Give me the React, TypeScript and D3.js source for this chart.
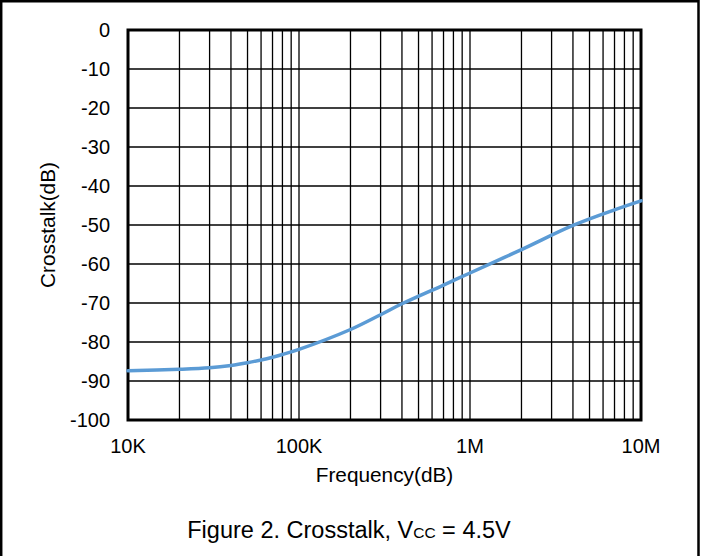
import React, { useEffect, useRef } from 'react';
import * as d3 from 'd3';

// values
const frequencies = [1e4, 2e4, 3e4, 4e4, 5e4, 6e4, 7e4, 8e4, 1e5, 2e5, 3e5, 4e5, 7e5, 1e6, 2e6, 4e6, 7e6, 1e7];
const crosstalk = [-87.4, -87.0, -86.6, -86.0, -85.3, -84.6, -83.9, -83.2, -81.9, -76.8, -73.0, -70.2, -65.4, -62.3, -56.3, -50.1, -46.1, -43.8];
const xTickValues = [1e4, 1e5, 1e6, 1e7];
const xTickLabels = ['10K', '100K', '1M', '10M'];
const yTickValues = [0, -10, -20, -30, -40, -50, -60, -70, -80, -90, -100];

const width = 704;
const height = 556;
const margin = { left: 128, right: 63, top: 30, bottom: 136 };
const font = 'Arial, "Liberation Sans", sans-serif';

const App: React.FC = () => {
    const ref = useRef<SVGSVGElement>(null);

    useEffect(() => {
        const svg = d3.select(ref.current);
        svg.selectAll('*').remove();

        const x = d3.scaleLog().domain([1e4, 1e7]).range([margin.left, width - margin.right]);
        const y = d3.scaleLinear().domain([-100, 0]).range([height - margin.bottom, margin.top]);

        // outer frame
        svg.append('path')
            .attr('d', `M1.2,${height} V1.2 H698.5 V${height}`)
            .attr('fill', 'none')
            .attr('stroke', '#000')
            .attr('stroke-width', 2.5);

        const g = svg.append('g');

        // vertical grid: 1..9 per decade
        const minor: number[] = [];
        for (let e = 4; e < 7; e++) {
            for (let m = 1; m < 10; m++) minor.push(m * Math.pow(10, e));
        }
        g.selectAll('.vgrid')
            .data(minor)
            .enter().append('line')
            .attr('x1', d => x(d)).attr('x2', d => x(d))
            .attr('y1', y(0)).attr('y2', y(-100))
            .attr('stroke', '#000')
            .attr('stroke-width', 1.3);

        g.selectAll('.hgrid')
            .data(yTickValues)
            .enter().append('line')
            .attr('x1', x(1e4)).attr('x2', x(1e7))
            .attr('y1', d => y(d)).attr('y2', d => y(d))
            .attr('stroke', '#000')
            .attr('stroke-width', 1.3);

        // plot frame
        g.append('rect')
            .attr('x', x(1e4)).attr('y', y(0))
            .attr('width', x(1e7) - x(1e4))
            .attr('height', y(-100) - y(0))
            .attr('fill', 'none')
            .attr('stroke', '#000')
            .attr('stroke-width', 3);

        // curve
        const points = frequencies.map((f, i) => [f, crosstalk[i]] as [number, number]);
        const line = d3.line<[number, number]>()
            .x(d => x(d[0]))
            .y(d => y(d[1]))
            .curve(d3.curveCatmullRom.alpha(0.5));
        g.append('path')
            .datum(points)
            .attr('d', line)
            .attr('fill', 'none')
            .attr('stroke', '#5B9BD5')
            .attr('stroke-width', 3.5)
            .attr('stroke-linecap', 'round');

        // y tick labels
        g.selectAll('.ytick')
            .data(yTickValues)
            .enter().append('text')
            .attr('x', 110)
            .attr('y', d => y(d))
            .attr('dy', '0.35em')
            .attr('text-anchor', 'end')
            .attr('font-family', font)
            .attr('font-size', 20)
            .text(d => String(d));

        // x tick labels
        g.selectAll('.xtick')
            .data(xTickValues)
            .enter().append('text')
            .attr('x', d => x(d))
            .attr('y', 453)
            .attr('text-anchor', 'middle')
            .attr('font-family', font)
            .attr('font-size', 20)
            .text((d, i) => xTickLabels[i]);

        // axis titles
        g.append('text')
            .attr('x', (x(1e4) + x(1e7)) / 2)
            .attr('y', 482)
            .attr('text-anchor', 'middle')
            .attr('font-family', font)
            .attr('font-size', 20.8)
            .text('Frequency(dB)');

        g.append('text')
            .attr('transform', `translate(55, ${(y(0) + y(-100)) / 2}) rotate(-90)`)
            .attr('text-anchor', 'middle')
            .attr('font-family', font)
            .attr('font-size', 20.8)
            .text('Crosstalk(dB)');

        // caption
        const cap = g.append('text')
            .attr('x', 349)
            .attr('y', 538)
            .attr('text-anchor', 'middle')
            .attr('font-family', font)
            .attr('font-size', 23.5);
        cap.append('tspan').text('Figure 2. Crosstalk, V');
        cap.append('tspan').attr('font-size', 15.5).text('CC');
        cap.append('tspan').text(' = 4.5V');
    }, []);

    return (
        <svg
            ref={ref}
            width={width}
            height={height}
            style={{ position: 'absolute', left: 0, top: 0, background: '#fff' }}
        />
    );
};

export default App;
